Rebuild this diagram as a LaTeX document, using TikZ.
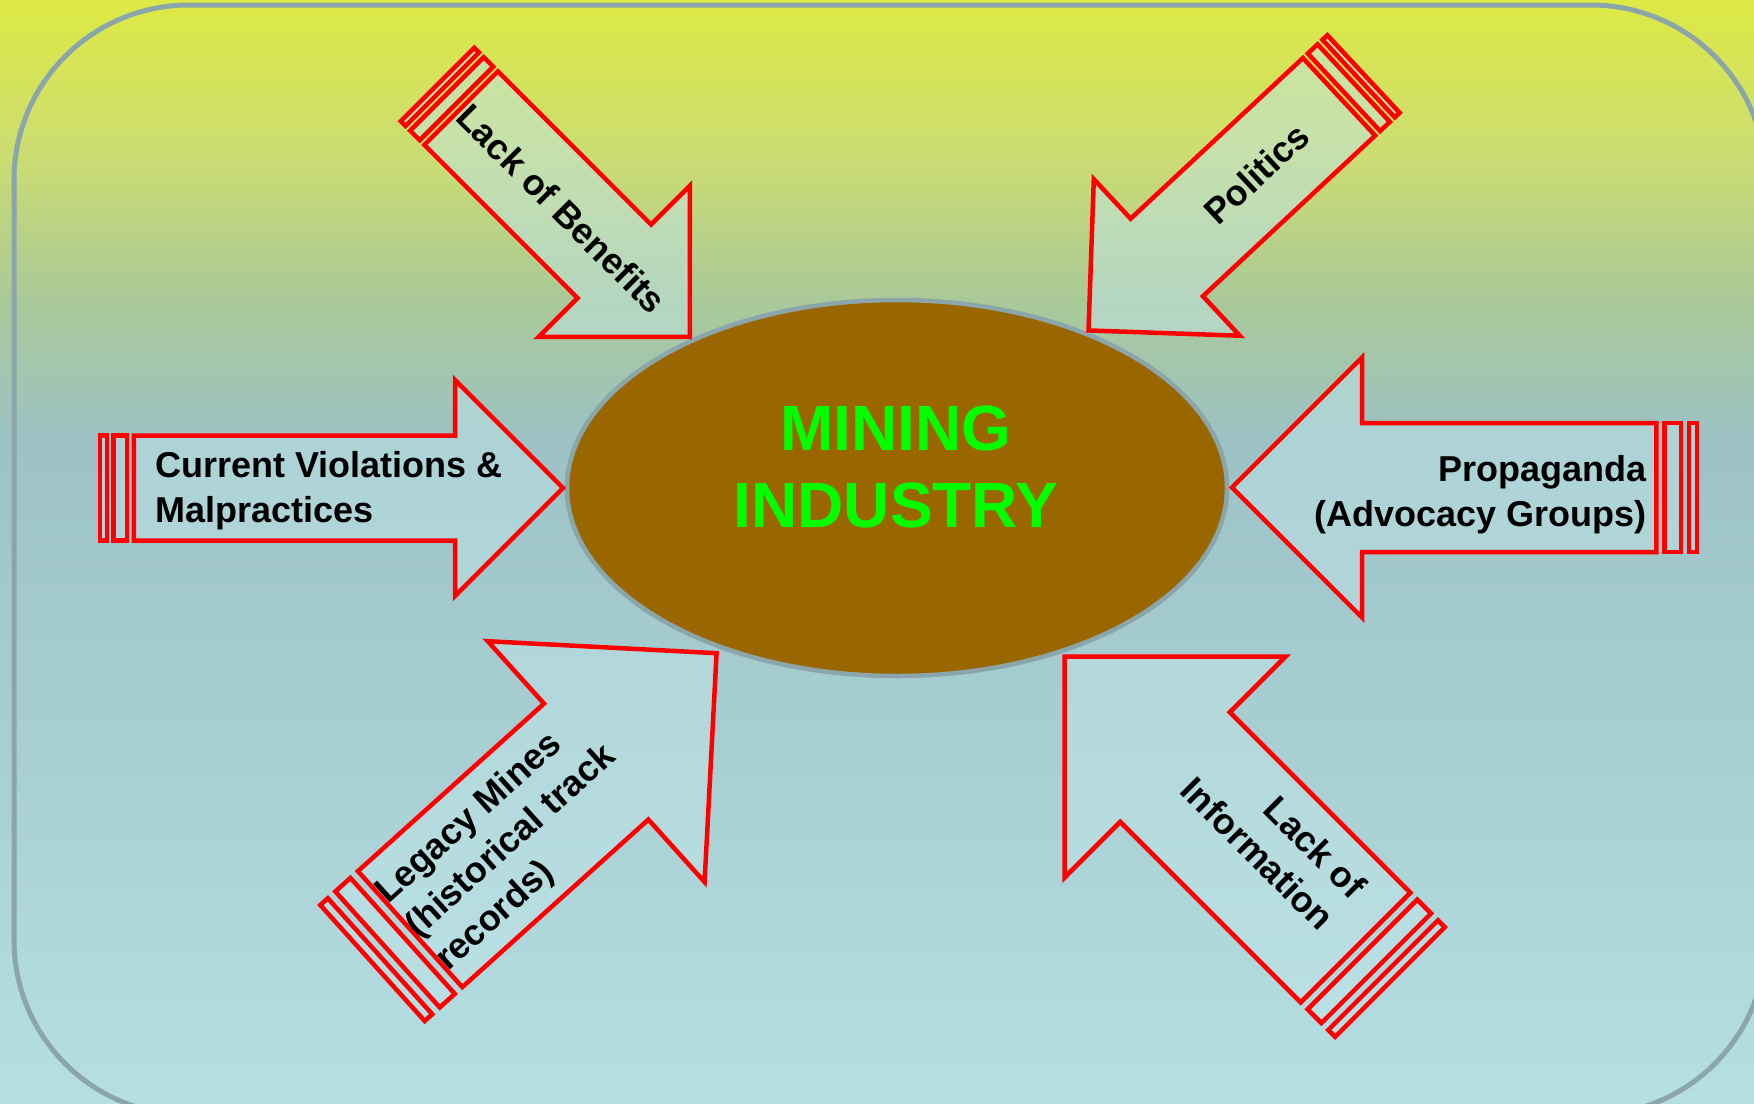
\documentclass[tikz,border=0pt]{standalone}
\usepackage{fontspec}
\setmainfont{Liberation Sans}
\usetikzlibrary{shapes.geometric}
\definecolor{bgtop}{RGB}{221,233,68}
\definecolor{bgtwo}{RGB}{204,221,112}
\definecolor{bgthree}{RGB}{170,201,152}
\definecolor{bgmid}{RGB}{156,194,197}
\definecolor{bgbot}{RGB}{181,223,227}
\definecolor{framecol}{RGB}{138,166,170}
\definecolor{ovalcol}{RGB}{153,102,0}
\definecolor{arrowfill}{RGB}{192,228,232}
\pgfdeclareverticalshading{bgfade}{100bp}{color(0bp)=(bgbot); color(25bp)=(bgbot);
  color(55bp)=(bgmid); color(61.4bp)=(bgthree); color(68.2bp)=(bgtwo);
  color(75bp)=(bgtop); color(100bp)=(bgtop)}
\begin{document}
\begin{tikzpicture}[x=.5pt,y=-.5pt,
            rim/.style={draw=red,line width=2.25pt,fill=arrowfill,fill opacity=.5,line join=miter},
            lbl/.style={font=\bfseries\fontsize{18}{22.5}\selectfont,inner sep=0pt,transform shape},
            core/.style={ellipse,draw=framecol,fill=ovalcol,line width=2.25pt,
                minimum width=330pt,minimum height=188pt,inner sep=0pt},
            pics/sarrow/.style n args={3}{code={
                \draw[rim] (0,-#2) rectangle ({#3/16},#2) ({#3/8},-#2) rectangle ({#3/4},#2);
                \draw[rim] ({5*#3/16},-#2) -- ({#1-#3},-#2) -- ({#1-#3},-#3) -- (#1,0)
                    -- ({#1-#3},#3) -- ({#1-#3},#2) -- ({5*#3/16},#2) -- cycle;}}]
            \useasboundingbox (0,0) rectangle (1754,1103);
            \clip (0,0) rectangle (1754,1103);
            \shade[shading=bgfade] (0,0) rectangle (1754,1103);
            \draw[draw=framecol,line width=2.5pt,rounded corners=87.5pt] (14,5) rectangle (1766,1115);
            \node[core] (mine) at (897,488) {};
            \node[font=\bfseries\fontsize{32}{38.3}\selectfont,text=green,align=center,inner sep=0pt]
                (title) at (896,467) {MINING\\INDUSTRY};
            \begin{scope}[shift={(100,488)}] % <<< left
                \pic[transform shape] {sarrow={463}{52.5}{108}};
                \node[lbl,anchor=west,align=left] (viol) at (55,3) {Current Violations \&\\Malpractices};
            \end{scope}
            \begin{scope}[shift={(1697,487.5)},rotate=180] % <<< right
                \pic[transform shape] {sarrow={465}{64.5}{130}};
                \node[lbl,rotate=180,anchor=east,align=right] (prop) at (50,-7.5) {Propaganda\\(Advocacy Groups)};
            \end{scope}
            \begin{scope}[shift={(437.5,84.5)},rotate=-45] % <<< top left
                \pic[transform shape] {sarrow={357}{52}{107}};
                \node[lbl,anchor=west] (benef) at (36,0) {Lack of Benefits};
            \end{scope}
            \begin{scope}[shift={(1363.5,74)},rotate=223] % <<< top right
                \pic[transform shape] {sarrow={376}{53}{107}};
                \node[lbl,rotate=180,anchor=east] (pol) at (82,0) {Politics};
            \end{scope}
            \begin{scope}[shift={(372.5,963)},rotate=42] % <<< bottom left
                \pic[transform shape] {sarrow={463}{78}{162}};
                \node[lbl,anchor=west,align=left] (legacy) at (50,3) {Legacy Mines\\(historical track\\records)};
            \end{scope}
            \begin{scope}[shift={(1390,982)},rotate=135] % <<< bottom right
                \pic[transform shape] {sarrow={460}{77.5}{156}};
                \node[lbl,rotate=180,anchor=east,align=right] (info) at (85,20) {Lack of\\Information};
            \end{scope}
        \end{tikzpicture}
\end{document}
